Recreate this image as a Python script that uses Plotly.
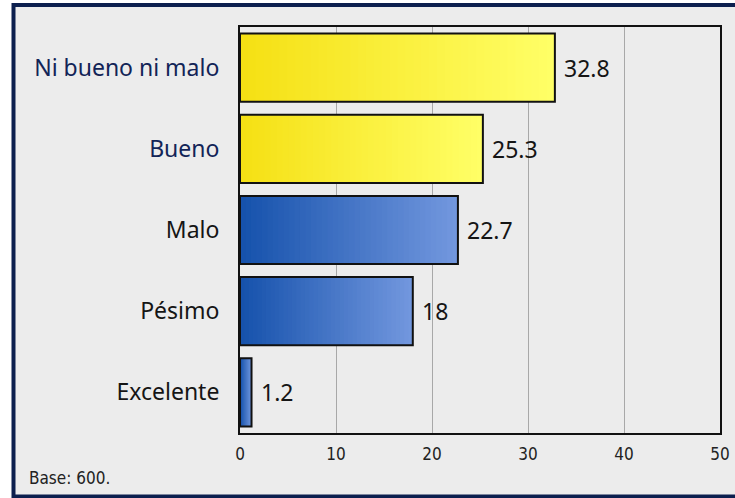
import plotly.graph_objects as go

categories = ["Ni bueno ni malo", "Bueno", "Malo", "Pésimo", "Excelente"]
values = [32.8, 25.3, 22.7, 18, 1.2]
groups = ["yellow", "yellow", "blue", "blue", "blue"]
tick_values = [0, 10, 20, 30, 40, 50]
base_note = "Base: 600."

# gradient endpoints (left dark -> right light)
grad = {
    "yellow": ((245, 224, 20), (255, 255, 102)),
    "blue": ((22, 82, 172), (114, 151, 222)),
}
label_colors = {"yellow": "#122457", "blue": "#151515"}

W, H = 735, 498
ML, MR, MT, MB = 240, 15, 27, 65
pw, ph = W - ML - MR, H - MT - MB

def px2x(p):
    return (p - ML) / pw

def py2y(p):
    return (H - MB - p) / ph

fig = go.Figure()
N = 40
for i in range(N):
    frac = (N - i) / N
    t = (N - 1 - i) / (N - 1)
    cols = []
    for g in groups:
        a, b = grad[g]
        c = tuple(int(round(a[k] + (b[k] - a[k]) * t)) for k in range(3))
        cols.append("rgb(%d,%d,%d)" % c)
    fig.add_trace(go.Bar(
        x=[v * frac for v in values], y=categories, orientation="h",
        width=0.84, marker=dict(color=cols, line=dict(width=0)),
        hoverinfo="skip", showlegend=False,
    ))

fig.add_trace(go.Bar(
    x=values, y=categories, orientation="h", width=0.84,
    marker=dict(color="rgba(0,0,0,0)", line=dict(color="#111111", width=2)),
    showlegend=False,
))

for c, v in zip(categories, values):
    fig.add_annotation(x=v, y=c, xref="x", yref="y", text="%g" % v,
                       showarrow=False, xanchor="left", yanchor="middle", xshift=7,
                       font=dict(family="Noto Sans", size=23, color="#151515"))

ticktext = ["<span style='color:%s'>%s</span>" % (label_colors[g], c)
            for c, g in zip(categories, groups)]

fig.update_layout(
    width=W, height=H, barmode="overlay",
    margin=dict(l=ML, r=MR, t=MT, b=MB, autoexpand=False),
    paper_bgcolor="#FFFFFF", plot_bgcolor="rgba(0,0,0,0)",
    font=dict(family="Noto Sans", color="#151515"),
    xaxis=dict(range=[0, 50], tickvals=tick_values, showgrid=True,
               gridcolor="#A8A8A8", gridwidth=1, zeroline=False,
               showline=True, linecolor="#111111", linewidth=2, mirror=True,
               ticks="", ticklabelstandoff=5, automargin=False,
               tickfont=dict(size=17, family="DejaVu Sans Condensed, DejaVu Sans", color="#222222")),
    yaxis=dict(categoryorder="array", categoryarray=categories[::-1],
               tickvals=categories, ticktext=ticktext, showgrid=False,
               showline=True, linecolor="#111111", linewidth=2, mirror=True,
               ticks="", ticklabelstandoff=14, automargin=False,
               tickfont=dict(size=23, family="Noto Sans")),
)

fig.add_shape(type="rect", xref="paper", yref="paper",
              x0=px2x(13.5), x1=px2x(760), y0=py2y(496.5), y1=py2y(5),
              line=dict(color="#0C1F4E", width=4), fillcolor="#ECECEC", layer="below")

fig.add_annotation(text=base_note, xref="paper", yref="paper",
                   x=px2x(27), y=py2y(478), xanchor="left", yanchor="middle",
                   showarrow=False, font=dict(size=17, family="DejaVu Sans Condensed, DejaVu Sans", color="#222222"))

fig.write_html("out.html", config={"displayModeBar": False},
               post_script="document.body.style.margin='0';")
